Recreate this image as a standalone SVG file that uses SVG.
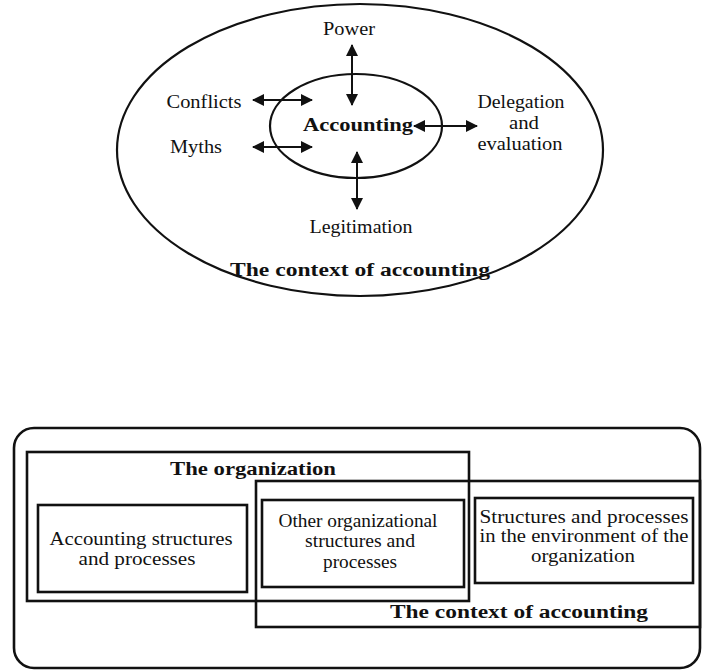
<svg xmlns="http://www.w3.org/2000/svg" width="703" height="670" viewBox="0 0 703 670">
<style>
.ln{fill:none;stroke:#111;stroke-width:2.2}
.bx{fill:none;stroke:#111;stroke-width:2.6}
.t{font-family:"Liberation Serif","Times New Roman",serif;font-size:18px;fill:#111;text-anchor:middle}
.b{font-weight:bold}
.ar{stroke:#111;stroke-width:2;fill:none;marker-start:url(#ah);marker-end:url(#ah)}
</style>
<defs>
<marker id="ah" viewBox="0 0 12 12" refX="11" refY="6" markerWidth="12" markerHeight="12" markerUnits="userSpaceOnUse" orient="auto-start-reverse">
<path d="M0,0 L12,6 L0,12 Z" fill="#111"/>
</marker>
</defs>
<rect width="703" height="670" fill="#fff"/>

<g id="context-ellipse">
<ellipse class="ln" cx="360" cy="150" rx="243" ry="146"/>
<text class="t b" x="360" y="276" textLength="260" lengthAdjust="spacingAndGlyphs">The context of accounting</text>
</g>
<g id="accounting">
<ellipse class="ln" cx="356" cy="126" rx="86" ry="52"/>
<text class="t b" x="358" y="131" textLength="110" lengthAdjust="spacingAndGlyphs">Accounting</text>
</g>
<g id="power"><text class="t" x="349" y="35" textLength="52" lengthAdjust="spacingAndGlyphs">Power</text></g>
<g id="conflicts"><text class="t" x="204" y="108" textLength="75" lengthAdjust="spacingAndGlyphs">Conflicts</text></g>
<g id="myths"><text class="t" x="196" y="153" textLength="52" lengthAdjust="spacingAndGlyphs">Myths</text></g>
<g id="delegation">
<text class="t" x="521" y="108" textLength="87" lengthAdjust="spacingAndGlyphs">Delegation</text>
<text class="t" x="524" y="129" textLength="30" lengthAdjust="spacingAndGlyphs">and</text>
<text class="t" x="520" y="150" textLength="85" lengthAdjust="spacingAndGlyphs">evaluation</text>
</g>
<g id="legitimation"><text class="t" x="361" y="233" textLength="103" lengthAdjust="spacingAndGlyphs">Legitimation</text></g>

<g id="connectors">
<line class="ar" x1="352" y1="45" x2="352" y2="105"/>
<line class="ar" x1="253" y1="100" x2="312" y2="100"/>
<line class="ar" x1="253" y1="147" x2="312" y2="147"/>
<line class="ar" x1="414" y1="126" x2="477" y2="126"/>
<line class="ar" x1="357" y1="152" x2="357" y2="209"/>
</g>

<g id="outer-frame"><rect class="bx" x="14" y="428" width="686" height="240" rx="20" ry="20"/></g>
<g id="organization">
<rect class="bx" x="27" y="452" width="442" height="149"/>
<text class="t b" x="253" y="475" textLength="166" lengthAdjust="spacingAndGlyphs">The organization</text>
</g>
<g id="context-rect">
<rect class="bx" x="256" y="481" width="444" height="146"/>
<text class="t b" x="519" y="618" textLength="258" lengthAdjust="spacingAndGlyphs">The context of accounting</text>
</g>
<g id="accounting-structures">
<rect class="bx" x="38" y="505" width="209" height="87"/>
<text class="t" x="141" y="545" textLength="183" lengthAdjust="spacingAndGlyphs">Accounting structures</text>
<text class="t" x="137" y="565" textLength="117" lengthAdjust="spacingAndGlyphs">and processes</text>
</g>
<g id="other-structures">
<rect class="bx" x="262" y="500" width="202" height="87"/>
<text class="t" x="358" y="527" textLength="159" lengthAdjust="spacingAndGlyphs">Other organizational</text>
<text class="t" x="360" y="547" textLength="110" lengthAdjust="spacingAndGlyphs">structures and</text>
<text class="t" x="360" y="568" textLength="74" lengthAdjust="spacingAndGlyphs">processes</text>
</g>
<g id="environment-structures">
<rect class="bx" x="475" y="498" width="218" height="85"/>
<text class="t" x="584" y="523" textLength="209" lengthAdjust="spacingAndGlyphs">Structures and processes</text>
<text class="t" x="584" y="542" textLength="209" lengthAdjust="spacingAndGlyphs">in the environment of the</text>
<text class="t" x="583" y="562" textLength="104" lengthAdjust="spacingAndGlyphs">organization</text>
</g>
</svg>
